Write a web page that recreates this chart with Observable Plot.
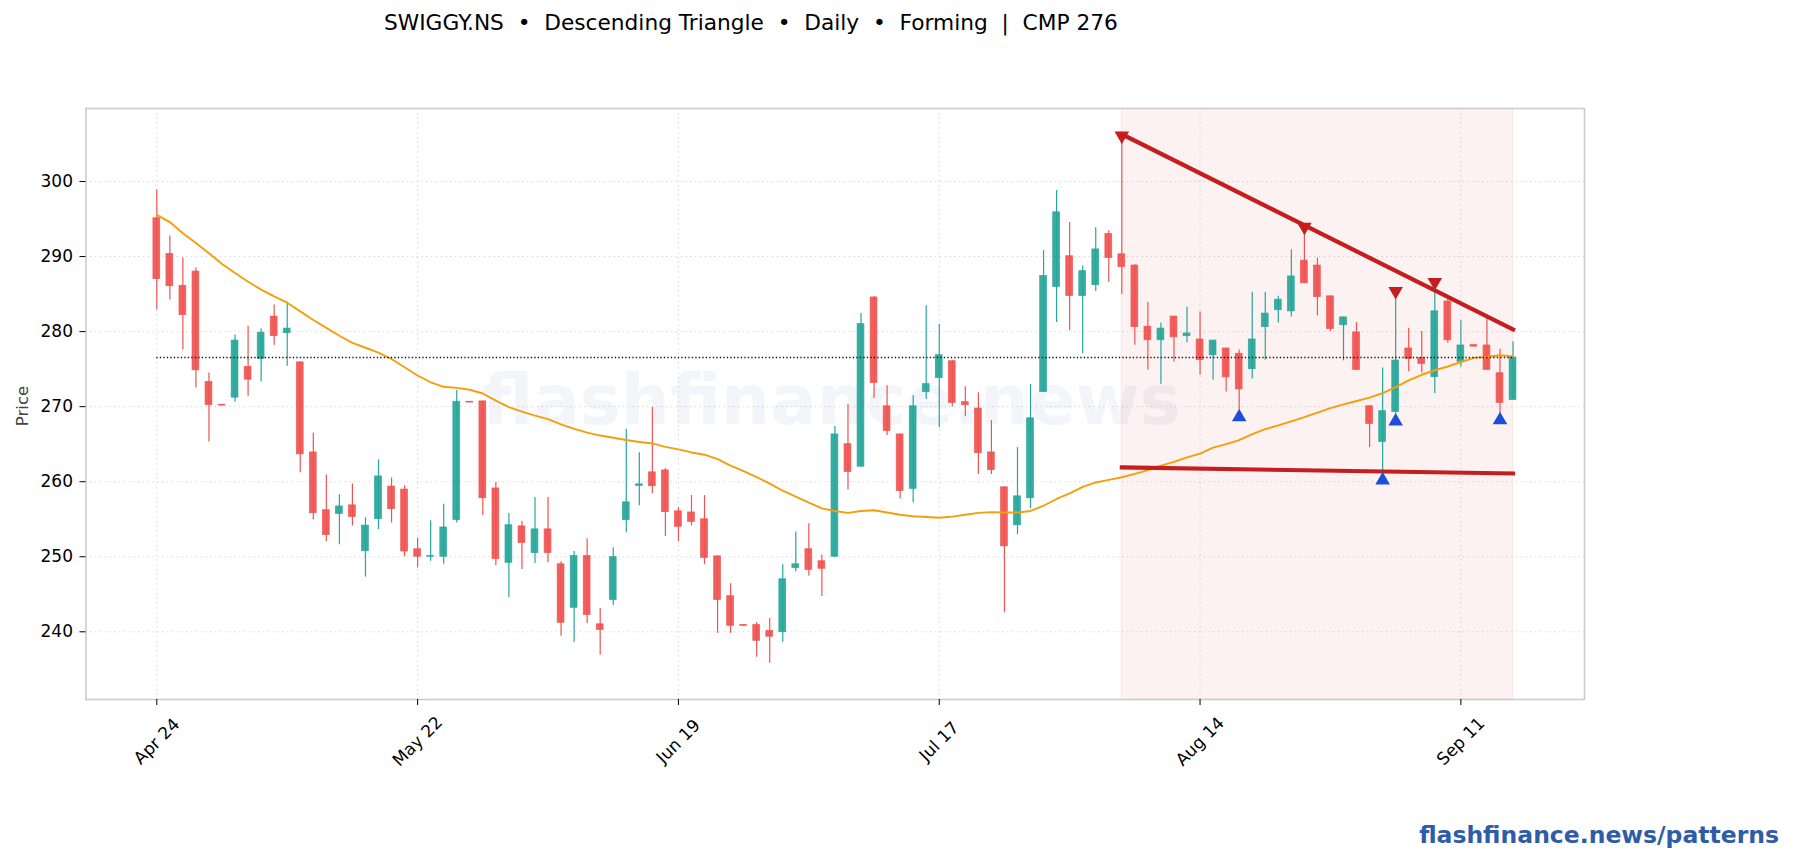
<!DOCTYPE html>
<html>
<head>
<meta charset="utf-8">
<script src="https://cdn.jsdelivr.net/npm/d3@7"></script>
<script src="https://cdn.jsdelivr.net/npm/@observablehq/plot@0.6"></script>
<style>
html,body{margin:0;padding:0;background:#fff;overflow:hidden;width:1793px;height:860px;font-family:"DejaVu Sans",sans-serif}
#title{height:50px;box-sizing:border-box;padding-left:384px;padding-top:10px;font-size:21.7px;line-height:25px;color:#000;white-space:pre}
#chart{height:740px}
#chart svg{display:block}
#foot{height:70px;box-sizing:border-box;padding-top:31px;text-align:right;padding-right:14px;font-size:23.5px;line-height:28px;font-weight:bold;color:#2f5ca8}
</style>
</head>
<body>
<div id="title">SWIGGY.NS  •  Descending Triangle  •  Daily  •  Forming  |  CMP 276</div>
<div id="chart"></div>
<div id="foot">flashfinance.news/patterns</div>
<script>
const opens = [295.1,290.35,286.1,288,273.3,270.25,271.2,275.3,276.35,282,279.8,275.9,263.9,256.2,255.7,256.85,250.75,255,259.35,258.95,251,250,250,254.9,270.65,270.7,259.1,249.2,254.05,250.5,253.65,249,243.2,250.1,241,244.25,254.9,259.45,261.25,261.5,256.05,255.9,255,250.05,244.75,240.9,240.9,240.1,239.95,248.5,251,249.4,250,265,262,284.55,270.05,266.3,259.05,271.95,273.8,276.05,270.6,269.75,263.9,259.25,254.2,257.8,271.95,285.95,290.05,284.75,286.2,293,290.3,288.8,280.65,278.85,282,279.4,278.95,276.85,277.75,277.05,275,280.6,282.85,282.7,289.45,288.8,284.7,280.85,279.9,270.05,265.3,269.3,277.75,276.45,273.95,284,275.95,278.2,278.15,274.45,270.9];
const closes = [287,286.05,282.2,274.85,270.2,270.15,278.8,273.6,279.85,279.4,280.4,263.65,255.8,252.9,256.7,255.3,254.15,260.7,256.35,250.7,250,250.1,253.9,270.65,270.55,257.8,249.7,254.2,251.85,253.65,250.5,241.2,250.1,242.25,240.25,249.95,257.25,259.65,259.4,255.95,254,254.65,249.85,244.25,240.8,240.8,238.8,239.35,247,249,248.25,248.4,266.3,261.3,281,273.15,266.75,258.75,270.05,273,276.85,270.5,270.2,263.8,261.55,251.4,258.05,268.45,287.4,295.9,284.75,288.05,290.95,289.8,288.6,280.6,278.85,280.4,279.25,279.75,276.2,278.8,273.9,272.3,278.95,282.4,284.25,287.35,286.45,284.6,280.35,281.9,274.9,267.7,269.4,276.15,276.35,275.7,282.7,278.85,278.15,278,274.9,270.5,276.55];
const highs = [298.9,292.75,289.8,288.5,274.5,270.3,279.55,280.7,280.35,283.55,283.9,275.95,266.5,260.9,258.25,259.7,255.2,262.9,260.5,259.45,252.5,254.8,257,272.2,270.7,270.75,259.9,255.75,254.7,257.9,257.9,249.35,250.7,252.4,243.1,251.2,267,263.85,269.9,261.75,256.55,258.15,258.15,250.1,246.4,240.9,241.25,241.8,248.95,253.3,254.4,250.25,267.35,270.3,282.4,284.65,272.8,266.35,271.45,283.45,280.95,276.2,272.65,271.85,268.15,259.3,264.55,272.95,290.8,298.8,294.55,288.75,293.85,293.45,305.9,288.9,283.9,281.15,282,283.25,282.6,278.85,277.8,277.55,285.25,285.25,284.7,290.9,294.1,289.8,284.75,281.9,281.2,270.1,275.15,285.3,280.4,280,285.7,284.35,281.45,278.15,281.85,277.65,278.65];
const lows = [282.9,284.2,277.55,272.5,265.3,270.1,270.6,271.4,273.3,278.2,275.4,261.2,254.9,252,251.6,254.1,247.3,253.6,254.5,250,248.5,249.4,249,254.5,270.5,255.5,248.8,244.55,248.3,249.1,249.2,239.4,238.6,241.1,236.9,243.5,253.2,256.8,258.4,252.7,252,254.1,248.95,239.8,239.8,240.75,236.6,235.8,238.6,248,247.45,244.7,249.95,258.9,261.95,271.1,266.15,257.7,257.2,270.95,267.2,269.95,268.65,260.95,260.95,242.55,252.95,256.4,271.95,281.2,280.15,277.05,285.35,286.55,284.95,278.2,274.9,273,275.95,278.5,274.2,273.55,271.95,269.55,273.7,276.2,281.15,281.95,286.45,282.1,280,276.1,274.9,264.55,261.2,269,274.65,274.5,271.75,278.45,275.3,277.95,274.9,269.1,270.9];
const avgLine = [295.55,294.6,293.1,291.8,290.45,289,287.8,286.65,285.6,284.7,283.85,282.7,281.55,280.5,279.45,278.5,277.85,277.2,276.35,275.25,274.15,273.25,272.65,272.5,272.25,271.75,270.8,269.95,269.35,268.8,268.35,267.65,267.05,266.55,266.15,265.85,265.55,265.3,265.1,264.65,264.3,263.9,263.6,263,262.15,261.4,260.6,259.75,258.8,258,257.2,256.45,256.1,255.85,256.1,256.2,255.9,255.6,255.4,255.3,255.2,255.35,255.6,255.85,255.95,255.9,255.9,256.1,256.8,257.7,258.45,259.3,259.9,260.25,260.6,261.05,261.55,262.15,262.65,263.25,263.75,264.55,265,265.55,266.35,267,267.5,268.05,268.6,269.2,269.8,270.3,270.75,271.2,271.8,272.6,273.5,274.25,274.85,275.35,275.95,276.5,276.65,276.85,276.7];
const tickIndex = [0,20,40,60,80,100];
const tickLabels = ["Apr 24","May 22","Jun 19","Jul 17","Aug 14","Sep 11"];
const yTicks = [240,250,260,270,280,290,300];
const currentPrice = 276.55;
const patternIdx = [74,104];
const resistance = [306.3,280.3];
const support = [261.9,261.1];
const peakIdx = [74,88,95,98];
const peakVal = [306.1,293.95,285.4,286.6];
const troughIdx = [83,94,95,103];
const troughVal = [268.6,260.2,268.05,268.2];
const xDomain = [-5.43,109.48];
const yDomain = [230.98,309.73];

const GREEN="#26a69a", RED="#ef5350";
const rows = opens.map((o,i)=>({i,o,c:closes[i],h:highs[i],l:lows[i],col:closes[i]>=o?GREEN:RED}));
const avg = avgLine.map((v,i)=>({i,v}));
const pair = a => patternIdx.map((x,k)=>({x,y:a[k]}));
const zip = (xs,ys) => xs.map((x,k)=>({x,y:ys[k]}));
const W = "#c41e1e";

const chart = Plot.plot({
  width:1793, height:740,
  marginLeft:85.5, marginRight:209, marginTop:58, marginBottom:91,
  style:{fontFamily:"DejaVu Sans",background:"#fff",color:"#000",overflow:"visible"},
  x:{type:"linear",domain:xDomain,label:null},
  y:{type:"linear",domain:yDomain,label:null},
  marks:[
    Plot.gridX(tickIndex,{stroke:"#cfcfcf",strokeOpacity:1,strokeWidth:1,strokeDasharray:"1.2,3.6"}),
    Plot.gridY(yTicks,{stroke:"#cfcfcf",strokeOpacity:1,strokeWidth:1,strokeDasharray:"1.2,3.6"}),
    Plot.text(["flashfinance.news"],{frameAnchor:"middle",fontSize:69,fontWeight:"bold",fill:"#2f5ca8",fillOpacity:0.06,dy:-2,dx:-4}),
    Plot.rect([0],{x1:()=>patternIdx[0],x2:()=>patternIdx[1],y1:()=>yDomain[0],y2:()=>yDomain[1],fill:"#c41e1e",fillOpacity:0.06,stroke:"#c41e1e",strokeOpacity:0.08}),
    Plot.ruleX(rows,{x:"i",y1:"l",y2:"h",stroke:"col",strokeWidth:1.2}),
    Plot.rect(rows,{x1:d=>d.i-0.26,x2:d=>d.i+0.26,y1:"o",y2:"c",fill:"col",fillOpacity:0.92,stroke:"col",strokeOpacity:0.85,strokeWidth:0.8}),
    Plot.line(avg,{x:"i",y:"v",stroke:"#f59e0b",strokeWidth:1.9}),
    Plot.ruleY([currentPrice],{x1:0,x2:104,stroke:"#111",strokeWidth:1.3,strokeDasharray:"1.3,2.2"}),
    Plot.line(pair(resistance),{x:"x",y:"y",stroke:W,strokeWidth:4.2,strokeLinecap:"square"}),
    Plot.line(pair(support),{x:"x",y:"y",stroke:W,strokeWidth:4.2,strokeLinecap:"square"}),
    Plot.dot(zip(peakIdx,peakVal),{x:"x",y:"y",symbol:"triangle",r:5.4,rotate:180,fill:W,stroke:null}),
    Plot.dot(zip(troughIdx,troughVal),{x:"x",y:"y",symbol:"triangle",r:5.4,fill:"#1d4ed8",stroke:null}),
    Plot.frame({stroke:"#cccccc",strokeWidth:1.6}),
    Plot.axisY({ticks:yTicks,tickSize:6,tickPadding:7,label:null,fontSize:17}),
    Plot.axisX({ticks:tickIndex,tickSize:6,label:null,tickFormat:d=>tickLabels[tickIndex.indexOf(d)],tickRotate:-45,textAnchor:"middle",lineAnchor:"middle",tickPadding:36,fontSize:17}),
    Plot.text(["Price"],{frameAnchor:"left",rotate:-90,dx:-63.5,dy:2,textAnchor:"middle",lineAnchor:"middle",fontSize:16.5,fill:"#444"})
  ]
});
document.getElementById("chart").appendChild(chart);
</script>
</body>
</html>
